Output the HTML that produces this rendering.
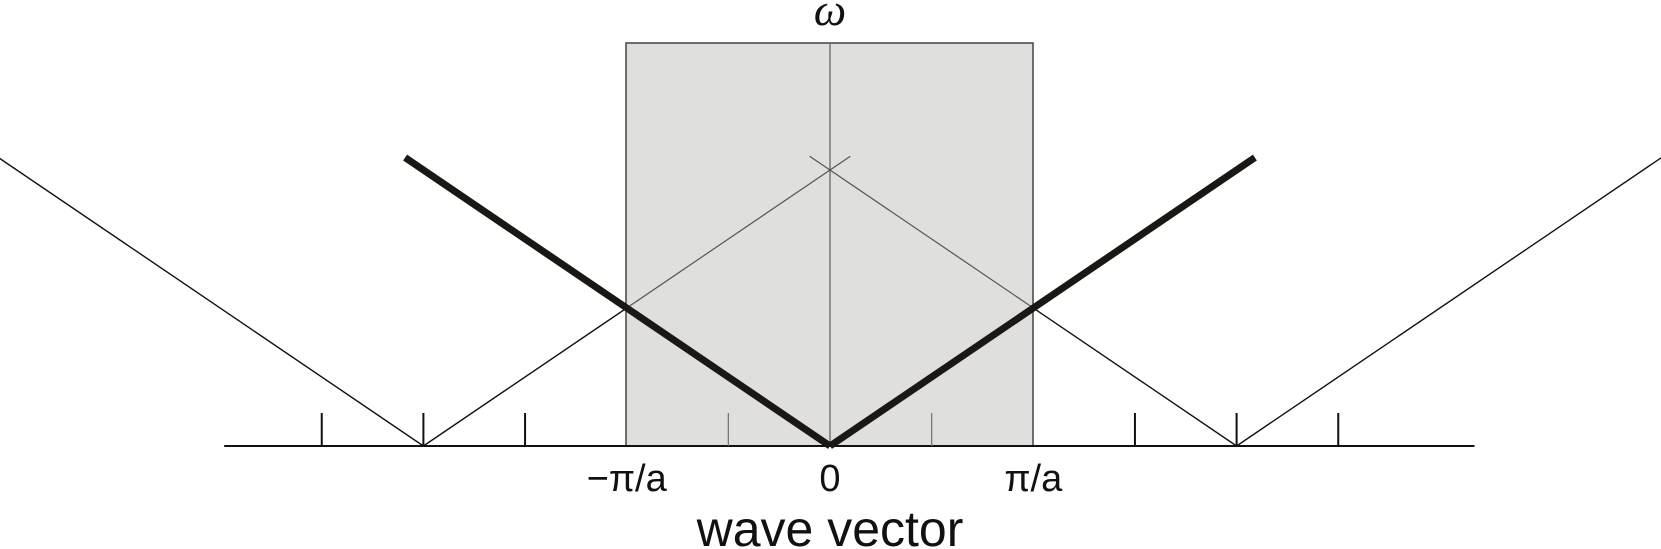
<!DOCTYPE html>
<html><head><meta charset="utf-8"><style>
html,body{margin:0;padding:0;background:#fff;}
svg{display:block;}
</style></head><body>
<svg id="chart" width="1661" height="549" viewBox="0 0 1661 549" xmlns="http://www.w3.org/2000/svg">
<defs><clipPath id="inbox"><rect x="626" y="0" width="407" height="549"/></clipPath>
<clipPath id="outbox"><path d="M0 0H626V549H0Z M1033 0H1661V549H1033Z"/></clipPath></defs>
<rect x="626" y="43" width="407" height="403" fill="#dfdfde" stroke="#444" stroke-width="1.5"/>
<line x1="830" y1="43" x2="830" y2="446" stroke="#666" stroke-width="1.3"/>
<text x="830" y="25" font-family="Liberation Serif, serif" font-style="italic" font-size="46" text-anchor="middle" fill="#111">ω</text>
<g id="marks"></g>
<text x="830" y="546" font-family="Liberation Sans, sans-serif" font-size="50" text-anchor="middle" fill="#111">wave vector</text>
</svg>
<script>
const tickPositions = [-2.5,-2,-1.5,-0.5,0.5,1.5,2,2.5];
const tickLabels = ["−π/a","0","π/a"];
const tickLabelK = [-1,0,1];
const thickBranchK = [[-2.09,0],[0,2.09]];
const thinBranchCenters = [-2,2];
const thinLeftExtent = [-4.1,-2,0.1];
const thinRightExtent = [-0.1,2,4.1];
const axisRange = [-2.98,3.17];

const X0=830, PX=203.3, Y0=446, PY=138;
const sx=k=>X0+k*PX, sy=w=>Y0-w*PY;
const g=document.getElementById('marks');
const NS='http://www.w3.org/2000/svg';
function mk(tag,attrs){const e=document.createElementNS(NS,tag);for(const k in attrs)e.setAttribute(k,attrs[k]);g.appendChild(e);return e;}

let ax=mk('line',{x1:sx(axisRange[0]),y1:Y0,x2:sx(axisRange[1]),y2:Y0,stroke:'#111','stroke-width':2});



tickPositions.forEach(k=>{
  const inside=Math.abs(k)<1;
  const t=mk('line',{x1:sx(k),y1:Y0-33,x2:sx(k),y2:Y0,stroke:inside?'#777':'#111','stroke-width':inside?1.3:2});
  
  
});

function vline(c,ext,name){
  const pts=ext.map(k=>sx(k)+','+sy(Math.abs(k-c))).join(' ');
  const p=mk('polyline',{points:pts,fill:'none',stroke:'#111','stroke-width':1.4,'clip-path':'url(#outbox)'});
  
  
  const q=mk('polyline',{points:pts,fill:'none',stroke:'#555','stroke-width':1.2,'clip-path':'url(#inbox)'});
  
  
}
vline(thinBranchCenters[0],thinLeftExtent,'folded-branch-left');
vline(thinBranchCenters[1],thinRightExtent,'folded-branch-right');

thickBranchK.forEach((r,i)=>{
  const l=mk('line',{x1:sx(r[0]),y1:sy(Math.abs(r[0])),x2:sx(r[1]),y2:sy(Math.abs(r[1])),stroke:'#1a1715','stroke-width':7,'stroke-linecap':'butt'});
  
  
});

tickLabels.forEach((s,i)=>{
  const t=mk('text',{x:sx(tickLabelK[i]),y:491,'font-family':'Liberation Sans, sans-serif','font-size':38,'text-anchor':'middle',fill:'#111'});
  t.textContent=s;
  
  
});
</script>
</body></html>
